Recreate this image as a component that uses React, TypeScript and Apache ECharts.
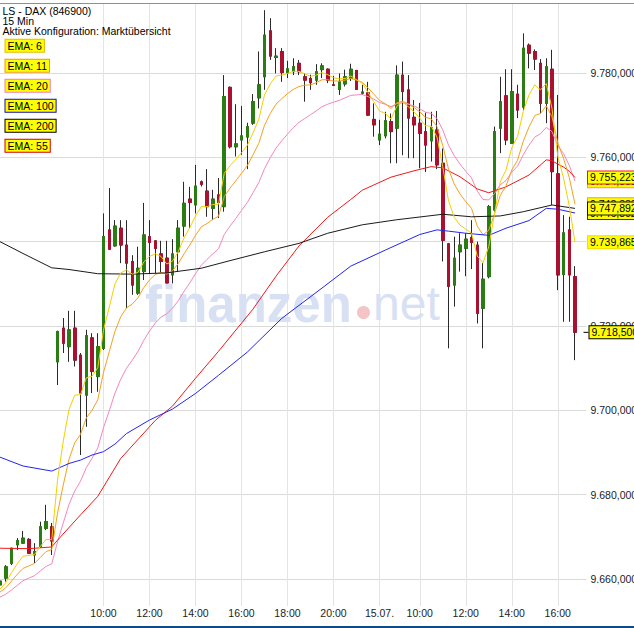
import React, { useEffect, useRef } from "react";
import * as echarts from "echarts";

const FONT = '"Liberation Sans", Arial, Helvetica, sans-serif';

// ---------- data ----------
const HEADER = ["LS - DAX (846900)", "15 Min", "Aktive Konfiguration: Marktübersicht"];
const LEGEND_PERIODS = [6, 11, 20, 100, 200, 55];

// [open, close, low, high]
const CANDLES: number[][] = [
  [9658.6, 9659.5, 9658.3, 9659.8], [9660.2, 9662.9, 9659.4, 9663.3], [9663.7, 9667.3, 9663.3, 9667.4],
  [9668.1, 9669.1, 9666.9, 9669.7], [9668.5, 9669.7, 9668.3, 9671.4], [9669.4, 9666.1, 9665.9, 9669.7],
  [9665.7, 9666.5, 9663.8, 9668.5], [9667.7, 9672.4, 9667.4, 9673.6], [9672.0, 9673.6, 9671.6, 9677.6],
  [9672.4, 9669.0, 9665.7, 9673.3], [9711.5, 9718.7, 9706.0, 9718.9], [9719.5, 9715.9, 9713.6, 9721.9],
  [9715.1, 9719.1, 9711.5, 9723.6], [9719.5, 9711.9, 9710.4, 9723.6], [9713.1, 9704.1, 9689.4, 9713.6],
  [9703.6, 9717.7, 9696.1, 9719.1], [9717.2, 9709.2, 9704.1, 9718.3], [9708.0, 9715.1, 9704.4, 9718.3],
  [9714.7, 9741.2, 9714.3, 9746.7], [9742.8, 9738.2, 9738.0, 9752.7], [9739.0, 9743.7, 9738.8, 9745.1],
  [9743.2, 9739.2, 9734.9, 9745.1], [9739.2, 9734.9, 9724.2, 9745.1], [9735.3, 9729.7, 9727.4, 9736.8],
  [9727.8, 9733.7, 9727.4, 9738.8], [9732.9, 9741.6, 9730.9, 9749.2], [9741.2, 9739.8, 9732.5, 9745.1],
  [9740.2, 9738.4, 9732.5, 9740.4], [9737.1, 9735.3, 9732.5, 9740.2], [9736.1, 9730.2, 9730.1, 9740.2],
  [9732.1, 9737.1, 9730.1, 9740.6], [9737.6, 9743.2, 9732.9, 9745.1], [9743.7, 9749.1, 9741.2, 9754.2],
  [9750.1, 9749.3, 9743.2, 9753.0], [9748.7, 9753.2, 9746.7, 9758.2], [9754.2, 9753.6, 9753.1, 9754.5],
  [9752.0, 9748.3, 9745.9, 9757.2], [9747.9, 9750.1, 9745.1, 9752.3], [9751.1, 9749.3, 9745.6, 9755.1],
  [9748.3, 9774.4, 9747.1, 9779.5], [9776.6, 9762.5, 9762.1, 9776.8], [9762.5, 9763.2, 9760.2, 9772.6],
  [9764.1, 9765.1, 9760.6, 9772.2], [9764.8, 9767.3, 9757.2, 9768.2], [9768.1, 9773.2, 9767.7, 9775.0],
  [9774.1, 9777.2, 9771.6, 9785.1], [9779.1, 9789.0, 9776.0, 9794.9], [9790.0, 9784.0, 9783.1, 9793.0],
  [9783.7, 9784.0, 9779.9, 9785.9], [9785.1, 9780.1, 9777.9, 9785.9], [9780.0, 9781.0, 9778.8, 9782.9],
  [9780.3, 9781.5, 9779.5, 9783.5], [9782.3, 9780.3, 9779.5, 9783.1], [9779.1, 9778.3, 9773.2, 9779.9],
  [9778.7, 9777.7, 9776.0, 9779.6], [9778.3, 9780.3, 9777.2, 9782.1], [9780.8, 9781.7, 9778.8, 9782.3],
  [9780.9, 9778.3, 9777.6, 9781.1], [9777.2, 9777.1, 9776.9, 9779.3], [9776.1, 9777.9, 9774.8, 9779.9],
  [9777.4, 9779.1, 9776.8, 9780.8], [9778.7, 9780.9, 9778.1, 9782.2], [9780.6, 9776.1, 9776.0, 9780.7],
  [9775.2, 9775.5, 9774.8, 9777.2], [9775.3, 9770.0, 9769.8, 9777.9], [9769.0, 9767.7, 9764.9, 9772.8],
  [9764.1, 9765.5, 9762.9, 9768.9], [9765.1, 9768.7, 9764.5, 9770.8], [9768.5, 9766.1, 9758.6, 9770.4],
  [9766.9, 9779.5, 9758.6, 9781.8], [9779.5, 9775.6, 9760.5, 9782.7], [9776.0, 9769.3, 9759.8, 9779.5],
  [9769.5, 9767.7, 9759.8, 9773.6], [9768.1, 9765.7, 9757.4, 9772.9], [9766.1, 9762.9, 9756.5, 9770.6],
  [9763.9, 9767.1, 9759.0, 9770.8], [9766.5, 9758.2, 9757.2, 9771.0], [9758.6, 9740.3, 9735.3, 9762.1],
  [9739.5, 9729.4, 9714.7, 9739.7], [9729.7, 9736.1, 9724.6, 9741.2], [9737.6, 9739.2, 9732.9, 9742.0],
  [9738.4, 9740.6, 9731.8, 9742.0], [9741.0, 9739.8, 9733.5, 9745.1], [9739.2, 9723.0, 9720.6, 9740.0],
  [9724.2, 9731.1, 9714.7, 9734.9], [9731.7, 9748.3, 9731.3, 9748.7], [9747.5, 9766.1, 9747.1, 9767.3],
  [9766.9, 9773.2, 9761.0, 9779.1], [9774.6, 9764.1, 9762.9, 9780.9], [9763.3, 9775.6, 9763.2, 9780.9],
  [9775.0, 9771.2, 9769.3, 9777.2], [9771.9, 9785.9, 9771.2, 9789.4], [9786.6, 9784.7, 9781.1, 9787.0],
  [9785.1, 9783.3, 9780.7, 9785.6], [9782.3, 9772.8, 9770.4, 9783.3], [9772.8, 9781.5, 9768.1, 9783.5],
  [9780.9, 9756.6, 9748.7, 9785.5], [9756.1, 9732.1, 9728.5, 9774.8], [9732.2, 9742.1, 9721.0, 9746.3],
  [9742.8, 9732.1, 9721.0, 9745.9], [9731.7, 9718.5, 9711.9, 9734.2],
];

const EMA6: number[] = [
  9657.6, 9659.1, 9661.5, 9663.6, 9665.4, 9665.6, 9665.8, 9667.7, 9669.4, 9669.3,
  9683.4, 9692.7, 9700.2, 9703.6, 9703.7, 9707.7, 9708.1, 9710.1, 9719.0, 9724.5,
  9730.0, 9732.6, 9733.3, 9732.3, 9732.7, 9735.2, 9736.5, 9737.1, 9736.5, 9734.7,
  9735.4, 9737.6, 9740.9, 9743.3, 9746.1, 9748.3, 9748.3, 9748.8, 9748.9, 9756.2,
  9758.0, 9759.5, 9761.1, 9762.8, 9765.8, 9769.0, 9774.8, 9777.4, 9779.3, 9779.5,
  9779.9, 9780.4, 9780.4, 9779.8, 9779.2, 9779.5, 9780.1, 9779.6, 9778.9, 9778.6,
  9778.7, 9779.3, 9778.4, 9777.6, 9775.4, 9773.2, 9771.0, 9770.4, 9769.1, 9772.1,
  9773.1, 9772.0, 9770.8, 9769.3, 9767.5, 9767.4, 9764.8, 9757.8, 9749.7, 9745.8,
  9743.9, 9743.0, 9742.0, 9736.6, 9735.0, 9738.8, 9746.6, 9754.2, 9757.0, 9762.3,
  9764.9, 9770.9, 9774.8, 9777.2, 9776.0, 9777.5, 9771.6, 9760.3, 9755.1, 9748.5,
  9739.865,
];

const EMA11: number[] = [
  9656.9, 9657.9, 9659.5, 9661.1, 9662.5, 9663.1, 9663.7, 9665.1, 9666.5, 9667.0,
  9675.6, 9682.3, 9688.4, 9692.3, 9694.3, 9698.2, 9700.0, 9702.5, 9709.0, 9713.9,
  9718.8, 9722.2, 9724.3, 9725.2, 9726.7, 9729.1, 9730.9, 9732.2, 9732.7, 9732.3,
  9733.1, 9734.8, 9737.1, 9739.2, 9741.5, 9743.5, 9744.3, 9745.3, 9746.0, 9750.7,
  9752.7, 9754.4, 9756.2, 9758.0, 9760.6, 9763.3, 9767.6, 9770.4, 9772.6, 9773.9,
  9775.1, 9776.1, 9776.8, 9777.1, 9777.2, 9777.7, 9778.4, 9778.4, 9778.1, 9778.1,
  9778.3, 9778.7, 9778.3, 9777.8, 9776.5, 9775.0, 9773.5, 9772.7, 9771.6, 9772.9,
  9773.3, 9772.7, 9771.8, 9770.8, 9769.5, 9769.1, 9767.3, 9762.8, 9757.2, 9753.7,
  9751.3, 9749.5, 9747.9, 9743.7, 9741.6, 9742.7, 9746.6, 9751.0, 9753.2, 9757.0,
  9759.3, 9763.8, 9767.2, 9769.9, 9770.4, 9772.2, 9769.6, 9763.4, 9759.8, 9755.2,
  9748.883,
];

const EMA20: number[] = [
  9655.7, 9656.4, 9657.4, 9658.5, 9659.6, 9660.2, 9660.8, 9661.9, 9663.0, 9663.6,
  9668.8, 9673.3, 9677.7, 9680.9, 9683.2, 9686.4, 9688.6, 9691.1, 9695.9, 9699.9,
  9704.1, 9707.4, 9710.0, 9711.9, 9714.0, 9716.6, 9718.8, 9720.7, 9722.1, 9722.9,
  9724.2, 9726.0, 9728.2, 9730.2, 9732.4, 9734.4, 9735.8, 9737.1, 9738.3, 9741.7,
  9743.7, 9745.5, 9747.4, 9749.3, 9751.6, 9754.0, 9757.3, 9759.9, 9762.2, 9763.9,
  9765.5, 9767.0, 9768.3, 9769.2, 9770.1, 9771.0, 9772.0, 9772.6, 9773.1, 9773.5,
  9774.1, 9774.7, 9774.8, 9774.9, 9774.4, 9773.8, 9773.0, 9772.6, 9772.0, 9772.7,
  9773.0, 9772.6, 9772.2, 9771.5, 9770.7, 9770.4, 9769.2, 9766.5, 9762.9, 9760.4,
  9758.4, 9756.7, 9755.1, 9752.0, 9750.0, 9749.9, 9751.4, 9753.5, 9754.5, 9756.5,
  9757.9, 9760.6, 9762.9, 9764.8, 9765.6, 9767.1, 9766.1, 9762.8, 9760.9, 9758.1,
  9754.351,
];

// [candle index, value]
const EMA55: number[][] = [
  [0, 9667.3], [5, 9667.2], [9, 9667.6], [10, 9669.2], [14, 9675.2], [17, 9679.6], [21, 9688.6],
  [27, 9697.6], [30, 9701.0], [34, 9707.6], [38, 9714.0], [44, 9724.0], [48, 9731.8], [52, 9739.0],
  [57, 9745.8], [61, 9750.0], [63, 9752.2], [68, 9755.3], [72, 9756.8], [75, 9757.8], [77, 9757.5],
  [80, 9755.4], [83, 9752.5], [85, 9751.6], [88, 9753.0], [92, 9755.8], [95, 9759.4], [96, 9759.2],
  [97, 9758.4], [98, 9757.7], [99, 9756.7], [100, 9755.223],
];

const EMA100: number[][] = [
  [0, 9688.9], [4, 9686.8], [9, 9685.6], [10, 9686.2], [12, 9687.4], [14, 9688.2], [16, 9689.4],
  [18, 9690.2], [20, 9692.0], [22, 9694.5], [26, 9697.7], [30, 9700.3], [34, 9704.0], [38, 9708.3],
  [43, 9713.8], [49, 9721.8], [56, 9729.0], [61, 9734.2], [67, 9738.0], [73, 9741.7], [76, 9742.8],
  [78, 9742.5], [81, 9742.0], [85, 9741.5], [88, 9743.2], [92, 9745.0], [95, 9747.9], [97, 9747.7],
  [100, 9746.802],
];

const EMA200: number[][] = [
  [0, 9740.0], [4, 9737.2], [9, 9733.8], [12, 9733.4], [17, 9732.4], [23, 9732.3], [29, 9732.6],
  [35, 9733.7], [40, 9735.5], [46, 9737.6], [52, 9739.6], [57, 9742.0], [63, 9744.0], [69, 9745.2],
  [77, 9746.5], [82, 9745.9], [87, 9746.1], [91, 9747.1], [96, 9748.7], [100, 9747.892],
];

const X_TICKS: [number, string][] = [
  [18, "10:00"], [26, "12:00"], [34, "14:00"], [42, "16:00"], [50, "18:00"], [58, "20:00"],
  [66, "15.07."], [73, "10:00"], [81, "12:00"], [89, "14:00"], [97, "16:00"],
];

const EXTRA_SLOTS = 2;
const CATEGORIES: string[] = Array.from({ length: CANDLES.length + EXTRA_SLOTS }, (_, i) => {
  const dayStart = i < 66 ? 5 * 60 + 30 : 8 * 60 + 15;
  const m = dayStart + (i < 66 ? i : i - 66) * 15;
  const hh = String(Math.floor(m / 60)).padStart(2, "0");
  const mm = String(m % 60).padStart(2, "0");
  return (i < 66 ? "14.07. " : "15.07. ") + hh + ":" + mm;
});

// ---------- styles ----------
const GREEN = "#2a7d12";
const RED = "#aa1030";
const WICK = "#2a2a2a";
const TAG_BG = "#ffff00";
const COLORS: Record<number, string> = {
  6: "#f2d000",
  11: "#f5a020",
  20: "#f287bd",
  55: "#ee1a1a",
  100: "#2424ee",
  200: "#1a1a1a",
};
const LEGEND_BORDER: Record<number, string> = {
  6: "#e0bf00",
  11: "#ee9a10",
  20: "#ee80b4",
  55: "#d40000",
  100: "#1010b0",
  200: "#000000",
};

function fmtDE(v: number): string {
  const [i, d] = v.toFixed(3).split(".");
  return i.replace(/\B(?=(\d{3})+(?!\d))/g, ".") + "," + d;
}

const tagLabel = (border: string) => ({
  backgroundColor: TAG_BG,
  borderColor: border,
  borderWidth: 1,
  padding: [1, 2, 0, 2],
  color: "#000",
  fontSize: 10.5,
  fontFamily: FONT,
  lineHeight: 11,
});

function lineSeries(period: number, data: any[]) {
  const color = COLORS[period];
  return {
    type: "line",
    name: "EMA " + period,
    data,
    symbol: "none",
    showSymbol: false,
    silent: true,
    z: 3,
    lineStyle: { color, width: 1 },
    itemStyle: { color },
    endLabel: {
      show: true,
      distance: 13,
      formatter: (p: any) => fmtDE(Array.isArray(p.value) ? p.value[1] : p.value),
      ...tagLabel(period === 6 ? "#f0dc00" : color),
    },
  };
}

function buildOption(): any {
  const tickMap: Record<number, string> = {};
  X_TICKS.forEach(([i, s]) => (tickMap[i] = s));
  const isTick = (i: number) => tickMap[i] !== undefined;
  const lastIdx = CANDLES.length - 1;
  const lastClose = CANDLES[lastIdx][1];

  const graphic: any[] = [
    {
      type: "line",
      shape: { x1: 0, y1: 3.5, x2: 634, y2: 3.5 },
      style: { stroke: "#8f8f8f", lineWidth: 1 },
      z: 50,
      silent: true,
    },
    {
      type: "rect",
      shape: { x: 0, y: 626, width: 634, height: 2 },
      style: { fill: "#0d4a8c" },
      z: 50,
      silent: true,
    },
    // watermark
    {
      type: "text",
      x: 145,
      y: 304,
      z: 1,
      silent: true,
      style: {
        text: "finanzen",
        fill: "#d8e0f4",
        font: 'bold 51px ' + FONT,
        textVerticalAlign: "middle",
        verticalAlign: "middle",
      },
    },
    {
      type: "circle",
      shape: { cx: 363.5, cy: 312.5, r: 6.5 },
      style: { fill: "#f4c4c6" },
      z: 1,
      silent: true,
    },
    {
      type: "text",
      x: 373,
      y: 303.5,
      z: 1,
      silent: true,
      style: {
        text: "net",
        fill: "#d8e0f4",
        font: '48px ' + FONT,
        textVerticalAlign: "middle",
        verticalAlign: "middle",
      },
    },
  ];

  HEADER.forEach((t, k) => {
    graphic.push({
      type: "text",
      x: 2.5,
      y: 10.7 + k * 10,
      z: 60,
      silent: true,
      style: {
        text: t,
        fill: "#000",
        font: '10.5px ' + FONT,
        textVerticalAlign: "middle",
        verticalAlign: "middle",
      },
    });
  });

  LEGEND_PERIODS.forEach((p, k) => {
    graphic.push({
      type: "text",
      x: 5.5,
      y: 45.8 + k * 20,
      z: 60,
      silent: true,
      style: {
        text: "EMA: " + p,
        fill: "#000",
        font: '10.5px ' + FONT,
        textVerticalAlign: "middle",
        verticalAlign: "middle",
        backgroundColor: TAG_BG,
        borderColor: LEGEND_BORDER[p],
        borderWidth: 1,
        padding: [1, 2, 0, 2],
        lineHeight: 11,
      },
    });
  });

  return {
    animation: false,
    backgroundColor: "#ffffff",
    textStyle: { fontFamily: FONT },
    grid: {
      left: 0,
      right: 47.5,
      top: 3,
      bottom: 22,
      containLabel: false,
      outerBoundsMode: "none",
    },
    xAxis: {
      type: "category",
      data: CATEGORIES,
      boundaryGap: false,
      axisLine: { show: false },
      axisTick: { show: false },
      axisLabel: {
        interval: (i: number) => isTick(i),
        formatter: (_v: string, i: number) => tickMap[i] ?? "",
        margin: 1,
        color: "#222",
        fontSize: 10.5,
        fontFamily: FONT,
      },
      splitLine: {
        show: true,
        interval: (i: number) => isTick(i),
        lineStyle: { color: "#e4e4e4", width: 1 },
      },
    },
    yAxis: {
      type: "value",
      position: "right",
      min: 9653.6,
      max: 9796.6,
      splitNumber: 7,
      axisLine: { show: false },
      axisTick: { show: false },
      axisLabel: {
        showMinLabel: false,
        showMaxLabel: false,
        margin: 4,
        formatter: (v: number) => fmtDE(v),
        color: "#222",
        fontSize: 10.5,
        fontFamily: FONT,
      },
      splitLine: {
        show: true,
        showMinLine: false,
        showMaxLine: false,
        lineStyle: { color: "#dadada", width: 1 },
      },
    },
    graphic,
    series: [
      {
        type: "candlestick",
        name: "wicks",
        data: CANDLES,
        barWidth: 3,
        silent: true,
        z: 2,
        itemStyle: {
          color: "transparent",
          color0: "transparent",
          borderColor: WICK,
          borderColor0: WICK,
          borderWidth: 1,
        },
      },
      {
        type: "candlestick",
        name: "bodies",
        data: CANDLES.map(([o, c]) => [o, c, Math.min(o, c), Math.max(o, c)]),
        barWidth: 3,
        silent: true,
        z: 2,
        itemStyle: {
          color: GREEN,
          color0: RED,
          borderColor: GREEN,
          borderColor0: RED,
          borderWidth: 1,
        },
        markPoint: {
          silent: true,
          symbol: "rect",
          symbolSize: [5, 1],
          symbolOffset: [11, 0],
          itemStyle: { color: "#000" },
          label: {
            show: true,
            position: "right",
            distance: 1,
            formatter: () => fmtDE(lastClose),
            ...tagLabel("#000"),
          },
          data: [{ coord: [lastIdx, lastClose] }],
        },
      },
      lineSeries(20, EMA20),
      lineSeries(55, EMA55),
      lineSeries(11, EMA11),
      lineSeries(100, EMA100),
      lineSeries(200, EMA200),
      lineSeries(6, EMA6),
    ],
  };
}

export default function App() {
  const ref = useRef<HTMLDivElement>(null);
  useEffect(() => {
    if (!ref.current) return;
    const chart = echarts.init(ref.current, undefined, { renderer: "svg" });
    chart.setOption(buildOption());
    return () => chart.dispose();
  }, []);
  return (
    <div
      ref={ref}
      style={{
        position: "absolute",
        left: 0,
        top: 0,
        width: 634,
        height: 628,
        background: "#fff",
        overflow: "hidden",
      }}
    />
  );
}
